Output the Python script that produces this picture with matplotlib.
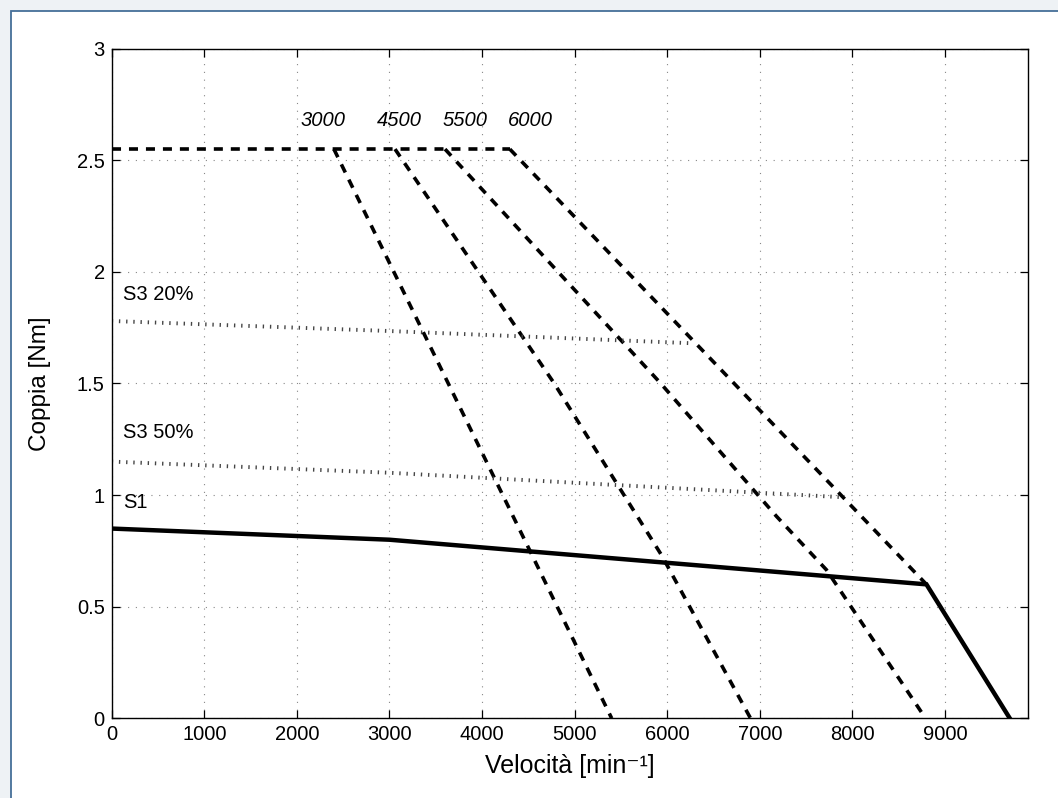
import matplotlib
matplotlib.use("Agg")
import matplotlib.pyplot as plt
from matplotlib.patches import Rectangle

plt.rcParams['font.family'] = ['Liberation Sans', 'DejaVu Sans']

# dati
top_speed = [0, 4300]
top_torque = [2.55, 2.55]

curve_names = ['3000', '4500', '5500', '6000']
c3000_speed = [2400, 5400]
c3000_torque = [2.55, 0.0]
c4500_speed = [3060, 4780, 5940, 6900]
c4500_torque = [2.55, 1.50, 0.73, 0.0]
c5500_speed = [3600, 5920, 7180, 7720, 8790]
c5500_torque = [2.55, 1.505, 0.905, 0.665, 0.0]
c6000_speed = [4300, 8800]
c6000_torque = [2.55, 0.60]
name_speed = [2280, 3110, 3813, 4517]
name_torque = 2.676

s1_speed = [0, 3000, 8800, 9700]
s1_torque = [0.85, 0.80, 0.60, 0.0]
s3_20_speed = [0, 3000, 6280]
s3_20_torque = [1.78, 1.735, 1.68]
s3_50_speed = [0, 3000, 7910]
s3_50_torque = [1.15, 1.10, 0.99]

fig = plt.figure(figsize=(10.58, 7.98), dpi=100)
fig.set_facecolor('#eef2f5')
# pannello bianco con bordo blu (solo sopra e a sinistra visibili)
panel = Rectangle((10.5 / 1058, -0.1), 1.2, 1 - 10.5 / 798 + 0.1,
                  transform=fig.transFigure, facecolor='white',
                  edgecolor='#456f99', linewidth=1.3, zorder=-5)
fig.patches.append(panel)

ax = fig.add_axes([0.1056, 0.0999, 0.8663, 0.8391])

dash = (0, (2.5, 2.2))
ax.plot(top_speed, top_torque, color='black', lw=2.6, linestyle=dash)
for n, t in [(c3000_speed, c3000_torque), (c4500_speed, c4500_torque),
             (c5500_speed, c5500_torque), (c6000_speed, c6000_torque)]:
    ax.plot(n, t, color='black', lw=2.6, linestyle=dash)

dot = (0, (0.35, 1.5))
ax.plot(s3_20_speed, s3_20_torque, color='#444444', lw=2.8, linestyle=dot,
        dash_capstyle='butt')
ax.plot(s3_50_speed, s3_50_torque, color='#444444', lw=2.8, linestyle=dot,
        dash_capstyle='butt')
ax.plot(s1_speed, s1_torque, color='black', lw=3.2, solid_joinstyle='miter')

for name, n in zip(curve_names, name_speed):
    ax.text(n, name_torque, name, fontsize=14.5, style='italic',
            ha='center', va='center')
ax.text(120, 1.90, 'S3 20%', fontsize=14.5, ha='left', va='center')
ax.text(120, 1.28, 'S3 50%', fontsize=14.5, ha='left', va='center')
ax.text(120, 0.967, 'S1', fontsize=14.5, ha='left', va='center')

ax.set_xlim(0, 9900)
ax.set_ylim(0, 3)
ax.set_xticks(range(0, 9001, 1000))
ax.set_yticks([0, 0.5, 1, 1.5, 2, 2.5, 3])
ax.set_yticklabels(['0', '0.5', '1', '1.5', '2', '2.5', '3'])
ax.tick_params(direction='in', length=6, width=0.9, top=True, right=True,
               labelsize=14.5, pad=5)
ax.grid(True, color='#888888', lw=0.8, linestyle=(0, (1, 6)))
for s in ax.spines.values():
    s.set_linewidth(1.0)

ax.set_xlabel('Velocità [min⁻¹]', fontsize=18)
ax.set_ylabel('Coppia [Nm]', fontsize=17.5)
ax.xaxis.set_label_coords(0.5, -0.053)
ax.yaxis.set_label_coords(-0.066, 0.5)

fig.savefig('out.png', dpi=100, facecolor=fig.get_facecolor())
